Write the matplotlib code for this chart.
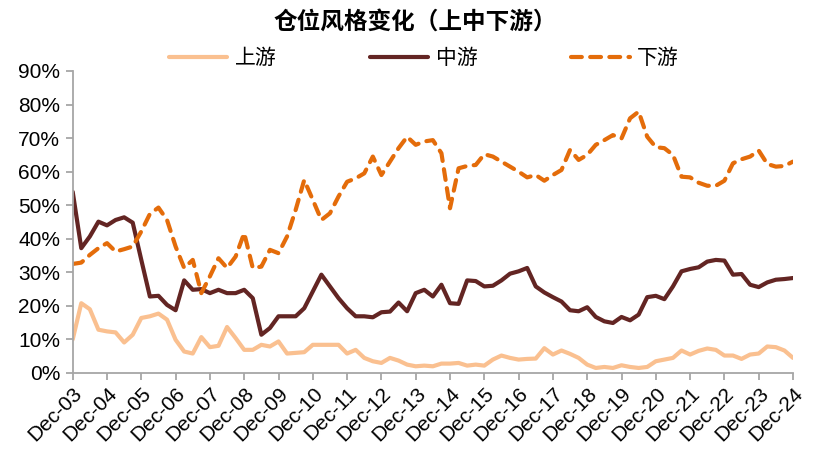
import matplotlib
matplotlib.use("Agg")
import matplotlib.pyplot as plt
from matplotlib.ticker import FixedLocator
from matplotlib.transforms import ScaledTranslation

# ---- data (quarterly, Dec-03 .. Dec-24), in % ----
years = [f"Dec-{y:02d}" for y in range(3, 25)]

upstream = [10, 20.8, 19, 12.9, 12.4, 12.1, 9.1, 11.4, 16.4, 16.9, 17.7, 15.9, 9.9, 6.4, 5.8, 10.7,
            7.7, 8.1, 13.7, 10.4, 6.9, 6.9, 8.4, 7.9, 9.4, 5.8, 6.0, 6.2, 8.4, 8.4, 8.4, 8.4,
            5.8, 6.9, 4.5, 3.5, 3.0, 4.5, 3.7, 2.5, 2.0, 2.2, 2.0, 2.8, 2.8, 3.0, 2.2, 2.5,
            2.2, 4.0, 5.2, 4.5, 4.0, 4.2, 4.3, 7.4, 5.5, 6.7, 5.7, 4.5, 2.5, 1.5, 1.8, 1.5,
            2.3, 1.8, 1.5, 1.8, 3.5, 4.0, 4.5, 6.7, 5.5, 6.6, 7.3, 6.9, 5.2, 5.2, 4.2, 5.5,
            5.8, 7.9, 7.7, 6.7, 4.5]

midstream = [54, 37.2, 40.7, 45.1, 44, 45.6, 46.4, 44.8, 33.7, 22.8, 23, 20.3, 18.7, 27.6, 24.8, 25,
             23.8, 24.8, 23.8, 23.8, 24.8, 22.3, 11.4, 13.4, 16.9, 16.9, 16.9, 19.3, 24.3, 29.3, 25.8, 22.3,
             19.3, 16.9, 16.9, 16.6, 18.1, 18.3, 21, 18.4, 23.8, 24.8, 22.8, 26.3, 20.8, 20.6, 27.6, 27.4,
             25.8, 26, 27.6, 29.6, 30.3, 31.3, 25.8, 24, 22.6, 21.3, 18.7, 18.4, 19.6, 16.7, 15.4, 14.9,
             16.7, 15.7, 17.4, 22.6, 23, 22, 25.8, 30.3, 31, 31.5, 33.2, 33.7, 33.5, 29.3, 29.5, 26.3,
             25.6, 27, 27.8, 28, 28.3]

downstream = [32.5, 32.9, 35.2, 37.2, 38.7, 36.2, 36.9, 37.7, 42.2, 47.4, 49.3, 45.6, 37.7, 31.3, 33.7, 23.8,
              28.8, 34.2, 31.3, 34.7, 41.7, 31.3, 31.7, 36.7, 35.7, 40.7, 48.6, 57.5, 51.6, 45.6, 47.6, 52.6,
              57, 58, 59.5, 64.5, 59, 63, 67, 70.4, 68, 69, 69.4, 65.5, 49.1, 61, 61.7, 62,
              65.2, 64.5, 63, 61.5, 60, 58.3, 59, 57.3, 59, 60.5, 66.5, 63.5, 65, 68, 69.4, 70.9,
              69.9, 75.9, 77.9, 70.4, 67.3, 67, 65, 58.5, 58.3, 56.7, 55.8, 55.8, 57.3, 62.5, 63.7, 64.5,
              66.3, 62.3, 61.5, 61.7, 63]

labels = ["上游", "中游", "下游"]
title = "仓位风格变化（上中下游）"
yticks = list(range(0, 91, 10))

c_up, c_mid, c_down = "#FAC090", "#632523", "#E46C0A"

plt.rcParams['font.family'] = ['Liberation Sans', 'Noto Sans CJK SC', 'DejaVu Sans']

fig = plt.figure(figsize=(8.15, 4.57), dpi=100)
ax = fig.add_axes([72.7 / 815, 1 - 373 / 457, (793 - 72.7) / 815, (373 - 71) / 457])

x = list(range(len(upstream)))
ax.plot(x, upstream, color=c_up, lw=3, solid_capstyle='round', solid_joinstyle='round', label=labels[0])
ax.plot(x, midstream, color=c_mid, lw=3, solid_capstyle='round', solid_joinstyle='round', label=labels[1])
ax.plot(x, downstream, color=c_down, lw=3, dashes=(2.6, 2.0), dash_capstyle='round',
        dash_joinstyle='round', label=labels[2])

ax.set_xlim(0, len(upstream) - 1)
ax.set_ylim(0, 90)
ax.xaxis.set_major_locator(FixedLocator(list(range(0, len(upstream), 4))))
ax.set_xticklabels(years, rotation=45, ha='right', rotation_mode='anchor', fontsize=15)
offset = ScaledTranslation(5 / 100, -6 / 100, fig.dpi_scale_trans)
for lab in ax.get_xticklabels():
    lab.set_transform(lab.get_transform() + offset)
ax.set_yticks(yticks)
ax.set_yticklabels([f"{v}%" for v in yticks], fontsize=15)

for s in ['top', 'right']:
    ax.spines[s].set_visible(False)
for s in ['left', 'bottom']:
    ax.spines[s].set_color('#A6A6A6')
    ax.spines[s].set_linewidth(1.3)
ax.tick_params(axis='both', direction='out', length=5, width=1.3, color='#A6A6A6', labelcolor='black')
ax.tick_params(axis='y', pad=4)
ax.tick_params(axis='x', pad=3)

fig.text(0.509, 1 - 22 / 457, title, ha='center', va='center', fontsize=17, fontweight='bold',
         family=['Noto Sans CJK SC'])

leg = fig.legend(loc='center', bbox_to_anchor=(0.52, 1 - 58 / 457), ncol=3, frameon=False,
                 handlelength=2.8, handletextpad=0.35, columnspacing=4.5, borderpad=0,
                 prop={'family': 'Noto Sans CJK SC', 'size': 15})

fig.savefig("out.png", dpi=100)
